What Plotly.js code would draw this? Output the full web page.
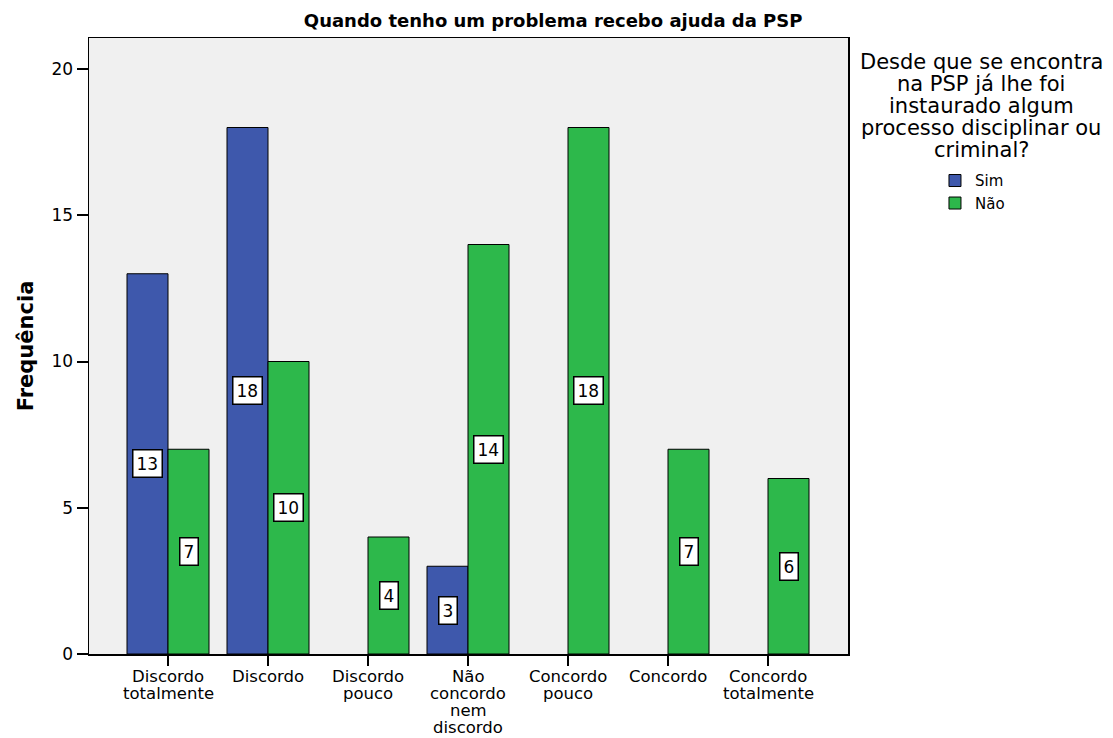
<!DOCTYPE html>
<html><head><meta charset="utf-8">
<script src="https://cdn.plot.ly/plotly-3.0.1.min.js"></script>
<style>body{margin:0;background:#fff}</style>
</head><body>
<div id="chart" style="width:1113px;height:738px"></div>
<script>
const categories = ["Discordo<br>totalmente","Discordo","Discordo<br>pouco","Não<br>concordo<br>nem<br>discordo","Concordo<br>pouco","Concordo","Concordo<br>totalmente"];
const simValues = [13, 18, null, 3, null, null, null];
const naoValues = [7, 10, 4, 14, 18, 7, 6];
const seriesNames = ["Sim", "Não"];
const legendTitleLines = ["Desde que se encontra", "na PSP já lhe foi", "instaurado algum", "processo disciplinar ou", "criminal?"];
const colors = ["#3E58AC", "#2DB84B"];
const FONT = "DejaVu Sans, Arial, sans-serif";

const traces = [simValues, naoValues].map((vals, i) => ({
  type: "bar", name: seriesNames[i], x: categories, y: vals,
  marker: {color: colors[i], line: {color: "#000", width: 1}},
  hoverinfo: "skip"
}));

const annotations = [];
// value labels
[simValues, naoValues].forEach((vals, i) => {
  vals.forEach((v, j) => {
    if (v == null) return;
    annotations.push({
      x: categories[j], y: v / 2, xref: "x", yref: "y",
      xshift: i === 0 ? -20.5 : 20.5,
      text: String(v), showarrow: false,
      bgcolor: "#fff", bordercolor: "#000", borderwidth: 1.5, borderpad: 3,
      font: {family: FONT, size: 17, color: "#000"}
    });
  });
});
// category labels (tight line spacing)
categories.forEach((c) => {
  c.split("<br>").forEach((line, k) => {
    annotations.push({
      x: c, xref: "x", y: 0, yref: "paper", yanchor: "middle",
      yshift: -(22 + 17 * k), text: line, showarrow: false, borderpad: 0,
      font: {family: FONT, size: 16.5, color: "#000"}
    });
  });
});
// legend title
legendTitleLines.forEach((line, k) => {
  annotations.push({
    xref: "paper", yref: "paper", x: (981 - 89) / 759, y: 1, xanchor: "center", yanchor: "middle",
    yshift: 38 - 62 - 22 * k, text: line, showarrow: false,
    font: {family: FONT, size: 21, color: "#000"}
  });
});

const layout = {
  width: 1113, height: 738,
  margin: {l: 89, r: 265, t: 38, b: 84},
  paper_bgcolor: "#fff", plot_bgcolor: "#F0F0F0",
  barmode: "group", bargap: 0.18, bargroupgap: 0,
  title: {text: "<b>Quando tenho um problema recebo ajuda da PSP</b>", x: 0.497, xanchor: "center", y: 0.972, yanchor: "middle",
    font: {family: FONT, size: 18, color: "#000"}},
  xaxis: {
    type: "category", range: [-0.79, 6.8],
    showline: true, linecolor: "#000", linewidth: 1.5, mirror: true,
    ticks: "outside", ticklen: 10, tickwidth: 2, tickcolor: "#000",
    showgrid: false, zeroline: false, showticklabels: false
  },
  yaxis: {
    range: [0, 21.06], tickvals: [0, 5, 10, 15, 20],
    showline: true, linecolor: "#000", linewidth: 1.5, mirror: true,
    ticks: "outside", ticklen: 11, tickwidth: 2, tickcolor: "#000",
    showgrid: false, zeroline: false,
    tickfont: {family: FONT, size: 17, color: "#000"},
    title: {text: "<b>Frequência</b>", standoff: 12, font: {family: FONT, size: 21, color: "#000"}}
  },
  showlegend: true,
  legend: {x: 1.1146, y: 0.795, xanchor: "left", yanchor: "top",
    font: {family: FONT, size: 15, color: "#000"}, itemwidth: 30, tracegroupgap: 0,
    bgcolor: "rgba(0,0,0,0)"},
  annotations: annotations
};

Plotly.newPlot("chart", traces, layout, {displayModeBar: false, staticPlot: true});
</script>
</body></html>
